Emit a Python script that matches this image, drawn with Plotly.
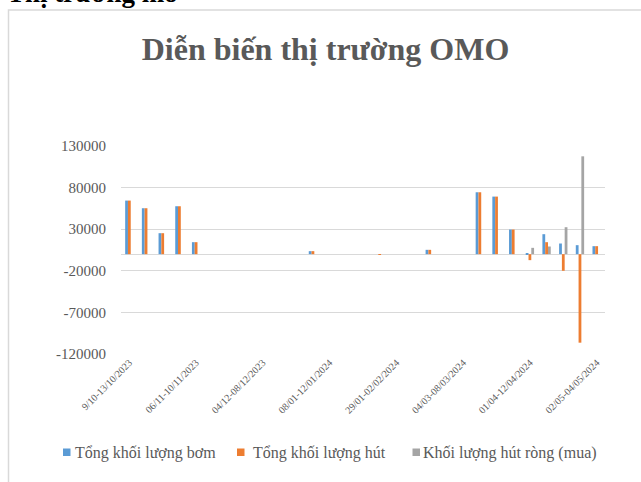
import plotly.graph_objects as go

# weekly periods (only every 4th label is shown on the axis)
weeks = [
    "9/10-13/10/2023", "16/10-20/10/2023", "23/10-27/10/2023", "30/10-03/11/2023",
    "06/11-10/11/2023", "13/11-17/11/2023", "20/11-24/11/2023", "27/11-01/12/2023",
    "04/12-08/12/2023", "11/12-15/12/2023", "18/12-22/12/2023", "25/12-05/01/2024",
    "08/01-12/01/2024", "15/01-19/01/2024", "22/01-24/01/2024", "25/01-26/01/2024",
    "29/01-02/02/2024", "05/02-08/02/2024", "14/02-23/02/2024", "26/02-01/03/2024",
    "04/03-08/03/2024", "11/03-15/03/2024", "18/03-22/03/2024", "25/03-29/03/2024",
    "01/04-12/04/2024", "15/04-19/04/2024", "22/04-26/04/2024", "29/04-30/04/2024",
    "02/05-04/05/2024",
]

# Tổng khối lượng bơm
bom = [64400, 55200, 25200, 57600, 14400, 0, 0, 0, 0, 0, 0, 3600, 0, 0, 0, 0, 0,
       0, 5200, 0, 0, 74400, 69200, 29600, 1200, 24000, 12800, 10800, 9600]
# Tổng khối lượng hút
hut = [64400, 55200, 25200, 57600, 14400, 0, 0, 0, 0, 0, 0, 3600, 0, 0, 0, -1000, 0,
       0, 5200, 0, 0, 74400, 69200, 29600, -7200, 14400, -20000, -106400, 9600]
# Khối lượng hút ròng (mua)
rong = [0, 0, 0, 0, 0, 0, 0, 0, 0, 0, 0, 0, 0, 0, 0, 0, 0,
        0, 0, 0, 0, 0, 0, 0, 7600, 9200, 32400, 117600, 0]

y_ticks = [-120000, -70000, -20000, 30000, 80000, 130000]

series = [
    ("Tổng khối lượng bơm", bom, "#5B9BD5"),
    ("Tổng khối lượng hút", hut, "#ED7D31"),
    ("Khối lượng hút ròng (mua)", rong, "#A5A5A5"),
]

serif = "Liberation Serif, Times New Roman, serif"
grey_txt = "#595959"

# plot area in pixels
L, R, T, B = 121, 605, 146, 354
W, H = 641, 482


def px(x):
    return (x - L) / (R - L)


def py(y):
    return 1 - (y - T) / (B - T)


fig = go.Figure()
for name, vals, col in series:
    fig.add_trace(go.Bar(x=weeks, y=vals, name=name, marker_color=col,
                         marker_line_width=0))

fig.update_layout(
    width=W, height=H,
    margin=dict(l=L, r=W - R, t=T, b=H - B),
    paper_bgcolor="white", plot_bgcolor="white",
    barmode="group", bargap=0.5, bargroupgap=0,
    showlegend=False,
    font=dict(family=serif, color=grey_txt),
    title=dict(text="<b>Diễn biến thị trường OMO</b>", xref="container",
               x=325.5 / W, xanchor="center",
               y=1 - 48.5 / H, yanchor="middle",
               font=dict(family=serif, size=32, color=grey_txt)),
    xaxis=dict(type="category", tickvals=weeks[::4], tickangle=-45,
               tickfont=dict(size=10, color=grey_txt), showgrid=False,
               showline=False, ticks="", automargin=False),
    yaxis=dict(range=[-120000, 130000], tickvals=y_ticks,
               ticktext=[str(v) for v in y_ticks],
               tickfont=dict(size=15, color=grey_txt), ticklabelstandoff=14,
               showgrid=True, gridcolor="#d9d9d9", gridwidth=1,
               zeroline=True, zerolinecolor="#d9d9d9", zerolinewidth=1,
               showline=False, ticks="", automargin=False),
)

# chart frame
fig.add_shape(type="rect", xref="paper", yref="paper",
              x0=px(8.5), x1=px(700), y0=py(600), y1=py(10),
              line=dict(color="#d9d9d9", width=1.5), layer="below")

# legend: small squares + labels along the bottom
legend_pos = [(63, 75), (237, 253), (412.5, 423)]
for (name, vals, col), (sq, tx) in zip(series, legend_pos):
    fig.add_shape(type="rect", xref="paper", yref="paper",
                  x0=px(sq), x1=px(sq + 7.5), y0=py(456), y1=py(448.5),
                  fillcolor=col, line=dict(width=0))
    fig.add_annotation(text=name, xref="paper", yref="paper",
                       x=px(tx - 2), xanchor="left", y=py(453), yanchor="middle",
                       showarrow=False,
                       font=dict(family=serif, size=16, color=grey_txt))

# section heading above the chart (cut by the page edge)
fig.add_annotation(text="<b>Thị trường mở</b>", xref="paper", yref="paper",
                   x=px(5), xanchor="left", y=py(-7), yanchor="middle",
                   showarrow=False,
                   font=dict(family=serif, size=27, color="black"))

# the page body has a default 8px margin; drop it so the figure sits at 0,0
fig.write_html("out.html", config={"displayModeBar": False},
               post_script="document.body.style.margin='0px';")
